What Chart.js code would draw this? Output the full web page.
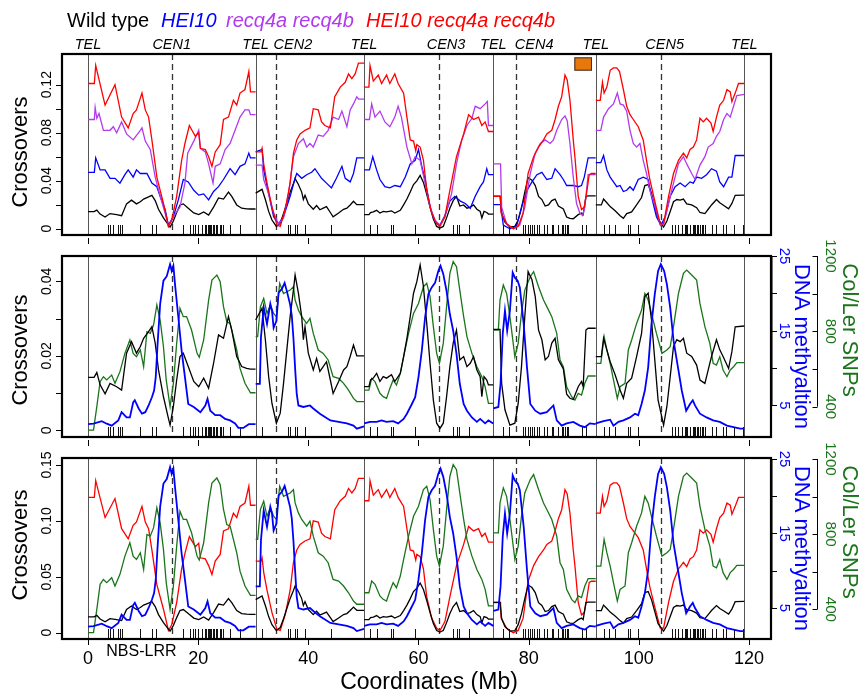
<!DOCTYPE html>
<html><head><meta charset="utf-8">
<script src="https://cdn.jsdelivr.net/npm/chart.js"></script>
<style>
html,body{margin:0;padding:0;background:#fff;}
#wrap{position:relative;width:860px;height:694px;overflow:hidden;}
canvas{position:absolute;left:0;top:0;}
</style></head><body>
<div id="wrap">
<canvas id="c1" width="860" height="694"></canvas>
<canvas id="c2" width="860" height="694"></canvas>
<canvas id="c3" width="860" height="694"></canvas>
</div>
<script>
// ---------- data (Mb, value) ----------
const chromBounds = [0, 30.43, 50.13, 73.59, 92.18, 119.16];
const cenPos = [15.2, 34.1, 63.8, 77.65, 104.0];
const cenNames = ['CEN1', 'CEN2', 'CEN3', 'CEN4', 'CEN5'];
const cenLabelPos = [15.2, 37.2, 65.0, 81.0, 104.7];
const xTicks = [0, 20, 40, 60, 80, 100, 120];
const legendNames = ['Wild type', 'HEI10', 'recq4a recq4b', 'HEI10 recq4a recq4b'];

const wildType = [[0.01,0.0142],[1.1,0.0142],[1.6,0.0155],[2.2,0.0122],[3.1,0.0098],[4.0,0.0126],[5.2,0.0117],[6.1,0.0108],[7.0,0.0207],[7.9,0.0238],[8.8,0.0207],[9.5,0.0225],[10.1,0.0247],[11.0,0.0265],[11.6,0.0278],[12.2,0.0234],[12.8,0.0162],[13.7,0.009],[14.6,0.0032],[14.9,0.0014],[15.5,0.0064],[16.1,0.0135],[16.7,0.0198],[17.3,0.0207],[18.2,0.0171],[19.2,0.0131],[20.1,0.0117],[21.0,0.014],[21.9,0.0113],[22.8,0.018],[23.7,0.0256],[24.6,0.0247],[25.5,0.0305],[26.1,0.0269],[27.0,0.0198],[27.9,0.0171],[28.8,0.0166],[29.5,0.0164],[30.42,0.0164],
[30.44,0.0296],[31.6,0.0328],[32.2,0.0243],[32.8,0.0144],[33.4,0.0072],[34.2,0.0019],[34.9,0.0046],[35.5,0.0126],[36.1,0.0216],[36.7,0.0305],[37.3,0.0377],[37.6,0.0417],[38.2,0.0368],[38.8,0.0305],[39.1,0.0243],[39.4,0.0278],[40.0,0.0207],[40.9,0.0162],[41.5,0.0193],[42.1,0.0158],[42.7,0.0171],[43.3,0.0184],[44.0,0.0135],[44.5,0.0099],[45.5,0.0131],[46.4,0.0162],[47.0,0.0171],[47.6,0.0198],[48.2,0.0229],[48.8,0.02],[50.12,0.02],
[50.14,0.0117],[51.0,0.0117],[51.3,0.0135],[51.8,0.014],[52.4,0.0153],[53.0,0.0131],[53.6,0.0144],[54.2,0.014],[55.1,0.0149],[55.7,0.0131],[56.7,0.0153],[57.3,0.0198],[57.9,0.0247],[58.5,0.0305],[59.1,0.0368],[59.7,0.0399],[60.3,0.0444],[60.9,0.0386],[61.5,0.0287],[62.1,0.018],[62.7,0.0081],[63.3,0.0019],[63.9,0.0005],[64.5,0.0019],[65.1,0.009],[65.7,0.0171],[66.3,0.0234],[66.9,0.0269],[67.5,0.0189],[68.2,0.0198],[68.8,0.0171],[69.4,0.018],[70.0,0.0198],[70.6,0.0162],[71.2,0.0144],[71.5,0.009],[71.9,0.0144],[72.4,0.0135],[72.7,0.0122],[73.58,0.0122],
[73.6,0.0271],[74.8,0.0271],[75.1,0.0126],[75.7,0.0055],[76.6,0.0014],[77.5,0.0019],[78.1,0.0072],[78.7,0.0171],[79.3,0.0305],[79.9,0.0426],[80.6,0.0404],[81.2,0.0359],[81.8,0.0269],[82.4,0.0243],[83.0,0.0189],[83.6,0.0198],[84.2,0.0234],[84.8,0.0247],[85.4,0.0189],[86.3,0.0165],[86.9,0.0097],[87.5,0.0086],[88.1,0.0083],[89.0,0.0117],[89.6,0.0131],[89.9,0.0117],[90.4,0.0269],[90.8,0.0274],[92.17,0.0274],
[92.19,0.0198],[93.2,0.0198],[93.6,0.0247],[94.2,0.0216],[94.8,0.0184],[95.7,0.0149],[96.6,0.0108],[97.2,0.0086],[97.8,0.0126],[98.7,0.014],[99.6,0.0198],[100.5,0.026],[101.1,0.0359],[101.7,0.0368],[102.3,0.0296],[102.9,0.0189],[103.5,0.0081],[104.5,0.0014],[105.1,0.0064],[105.7,0.0144],[106.3,0.0225],[106.9,0.0243],[107.5,0.0238],[108.1,0.0247],[108.7,0.0207],[109.6,0.0198],[110.5,0.0175],[111.1,0.0135],[112.0,0.0126],[112.6,0.0162],[113.2,0.0198],[114.1,0.0243],[114.7,0.0216],[115.3,0.0198],[116.3,0.0166],[116.9,0.0211],[117.5,0.0278],[119.15,0.028]];

const hei10 = [[0.01,0.047],[1.15,0.047],[1.4,0.059],[2.2,0.049],[3.1,0.049],[4.0,0.042],[4.9,0.042],[5.8,0.038],[6.7,0.045],[7.3,0.049],[8.2,0.043],[8.8,0.049],[9.5,0.046],[10.7,0.046],[11.6,0.038],[12.5,0.035],[13.1,0.027],[14.0,0.016],[14.6,0.003],[15.5,0.010],[16.4,0.024],[17.3,0.041],[18.2,0.039],[19.2,0.032],[20.1,0.028],[21.0,0.029],[21.9,0.024],[22.8,0.031],[23.7,0.035],[24.6,0.041],[25.8,0.050],[26.7,0.045],[27.6,0.052],[28.5,0.054],[29.2,0.063],[29.5,0.059],[30.42,0.059],
[30.44,0.064],[31.6,0.066],[31.9,0.049],[32.8,0.029],[33.7,0.010],[34.6,0.004],[35.5,0.010],[36.7,0.027],[37.6,0.042],[37.9,0.046],[38.8,0.042],[39.7,0.045],[40.6,0.047],[41.2,0.050],[42.4,0.042],[43.3,0.038],[44.2,0.034],[45.1,0.042],[46.1,0.052],[46.7,0.042],[47.6,0.039],[48.2,0.046],[48.8,0.059],[50.12,0.059],
[50.14,0.049],[51.1,0.049],[51.7,0.060],[52.4,0.049],[53.0,0.041],[53.9,0.035],[54.8,0.034],[55.7,0.036],[56.7,0.035],[57.6,0.043],[58.5,0.054],[59.4,0.057],[60.0,0.066],[60.6,0.052],[61.2,0.041],[62.1,0.018],[63.0,0.006],[63.9,0.003],[64.8,0.011],[65.7,0.023],[66.6,0.027],[67.6,0.023],[68.5,0.021],[69.4,0.017],[70.3,0.027],[71.2,0.035],[71.8,0.039],[72.4,0.050],[72.7,0.045],[73.58,0.045],
[73.6,0.020],[74.9,0.020],[75.4,0.003],[76.6,0.000],[77.8,0.002],[78.7,0.018],[79.7,0.032],[80.6,0.039],[81.5,0.045],[82.4,0.047],[83.3,0.041],[84.2,0.042],[84.8,0.050],[85.7,0.045],[86.3,0.041],[86.9,0.036],[88.1,0.036],[89.0,0.035],[89.6,0.036],[90.1,0.043],[90.8,0.059],[92.17,0.059],
[92.19,0.055],[93.1,0.055],[93.6,0.061],[94.2,0.049],[94.8,0.043],[95.4,0.039],[96.0,0.035],[96.6,0.036],[97.2,0.031],[97.8,0.032],[98.4,0.035],[99.0,0.032],[99.9,0.041],[100.8,0.043],[101.7,0.041],[102.3,0.027],[103.2,0.010],[104.0,0.003],[104.8,0.010],[105.7,0.027],[106.6,0.035],[107.5,0.038],[108.4,0.035],[109.3,0.039],[109.9,0.038],[110.5,0.043],[111.4,0.042],[112.3,0.045],[113.2,0.050],[114.1,0.048],[114.7,0.039],[115.4,0.035],[116.3,0.043],[116.9,0.043],[117.5,0.061],[119.15,0.061]];

const recq4 = [[0.01,0.091],[1.15,0.091],[1.3,0.101],[1.6,0.092],[2.0,0.096],[2.8,0.082],[4.0,0.082],[4.6,0.085],[5.2,0.080],[6.1,0.089],[7.0,0.079],[8.2,0.074],[9.5,0.082],[9.8,0.084],[10.4,0.073],[11.3,0.066],[12.2,0.043],[13.1,0.027],[14.0,0.013],[14.6,0.002],[15.5,0.010],[16.7,0.018],[17.6,0.038],[18.1,0.063],[19.2,0.073],[20.1,0.082],[20.4,0.067],[21.3,0.064],[21.9,0.054],[22.7,0.038],[23.1,0.052],[24.0,0.054],[24.9,0.066],[25.8,0.071],[26.7,0.082],[27.6,0.093],[28.5,0.099],[29.2,0.099],[29.5,0.095],[30.42,0.095],
[30.44,0.053],[31.6,0.053],[31.9,0.041],[32.8,0.029],[33.7,0.013],[34.6,0.004],[35.5,0.009],[36.4,0.029],[37.3,0.060],[38.2,0.071],[39.1,0.075],[39.7,0.068],[40.3,0.071],[40.9,0.068],[41.8,0.078],[42.7,0.077],[43.6,0.082],[44.5,0.093],[45.5,0.091],[46.1,0.098],[47.0,0.085],[47.6,0.099],[48.2,0.104],[48.8,0.110],[49.1,0.108],[50.12,0.108],
[50.14,0.091],[51.1,0.091],[51.5,0.104],[52.1,0.093],[53.0,0.098],[53.9,0.089],[54.8,0.085],[55.7,0.093],[56.3,0.102],[56.9,0.093],[57.9,0.068],[58.8,0.054],[59.4,0.060],[60.3,0.057],[61.2,0.038],[62.1,0.018],[63.0,0.007],[63.9,0.003],[64.8,0.010],[66.0,0.029],[66.9,0.054],[67.8,0.073],[68.8,0.086],[69.7,0.092],[70.3,0.102],[71.2,0.100],[72.1,0.104],[72.5,0.106],[72.7,0.086],[73.58,0.086],
[73.6,0.054],[74.9,0.054],[75.1,0.018],[76.0,0.004],[77.2,0.000],[78.4,0.003],[79.3,0.018],[80.3,0.046],[81.2,0.063],[82.1,0.071],[83.0,0.074],[83.9,0.071],[84.5,0.074],[85.1,0.082],[86.0,0.091],[86.6,0.094],[87.0,0.090],[87.5,0.071],[88.1,0.043],[88.7,0.021],[89.3,0.013],[89.8,0.011],[90.2,0.018],[90.8,0.045],[92.17,0.045],
[92.19,0.082],[93.1,0.082],[93.6,0.093],[94.5,0.100],[95.4,0.104],[96.1,0.113],[96.6,0.104],[97.2,0.103],[97.8,0.098],[98.4,0.082],[99.0,0.071],[99.6,0.068],[100.2,0.071],[100.8,0.057],[101.4,0.046],[102.0,0.032],[103.0,0.018],[103.9,0.003],[104.5,0.004],[105.4,0.021],[106.3,0.038],[107.2,0.054],[108.1,0.060],[108.7,0.054],[109.6,0.046],[110.2,0.041],[111.1,0.053],[112.0,0.060],[112.6,0.068],[113.5,0.071],[114.1,0.077],[114.7,0.081],[115.4,0.091],[116.0,0.096],[116.6,0.093],[117.2,0.102],[117.8,0.111],[119.15,0.112]];

const hei10Recq4 = [[0.01,0.121],[1.15,0.121],[1.4,0.136],[3.1,0.103],[4.9,0.120],[6.1,0.093],[7.3,0.084],[8.2,0.096],[8.8,0.099],[9.8,0.113],[10.4,0.099],[11.0,0.093],[11.6,0.074],[12.5,0.043],[13.7,0.021],[14.6,0.002],[15.2,0.007],[16.1,0.027],[17.0,0.057],[17.6,0.071],[18.4,0.086],[19.0,0.081],[19.5,0.077],[20.1,0.080],[20.4,0.067],[21.3,0.066],[21.9,0.060],[22.5,0.052],[23.1,0.064],[24.0,0.070],[24.6,0.091],[25.5,0.093],[26.4,0.107],[27.0,0.103],[27.6,0.113],[28.5,0.116],[29.2,0.131],[29.5,0.114],[30.42,0.114],
[30.44,0.064],[31.4,0.064],[31.6,0.067],[31.9,0.054],[32.5,0.038],[33.4,0.018],[34.3,0.003],[34.9,0.002],[35.8,0.016],[36.7,0.038],[37.3,0.063],[37.9,0.074],[38.5,0.079],[39.4,0.082],[40.3,0.084],[40.9,0.100],[41.8,0.099],[42.4,0.089],[43.0,0.086],[44.0,0.084],[44.8,0.110],[45.8,0.118],[46.7,0.122],[47.3,0.129],[47.9,0.125],[48.5,0.129],[49.1,0.138],[50.12,0.138],
[50.14,0.118],[51.0,0.118],[51.2,0.136],[51.8,0.123],[52.7,0.128],[53.3,0.121],[54.2,0.128],[54.8,0.121],[55.7,0.129],[56.3,0.121],[57.3,0.113],[57.9,0.093],[58.5,0.074],[59.1,0.073],[59.5,0.065],[59.7,0.070],[60.3,0.068],[60.9,0.057],[61.5,0.032],[62.4,0.013],[63.3,0.004],[63.9,0.002],[64.8,0.010],[65.7,0.032],[66.9,0.060],[68.2,0.079],[69.1,0.095],[70.0,0.091],[70.9,0.093],[71.5,0.086],[72.1,0.089],[72.7,0.081],[73.58,0.081],
[73.6,0.027],[74.9,0.027],[75.0,0.013],[76.0,0.004],[77.2,0.000],[78.1,0.002],[79.0,0.013],[79.9,0.046],[80.9,0.060],[81.8,0.068],[82.7,0.074],[83.3,0.079],[84.2,0.082],[84.8,0.091],[85.4,0.102],[86.0,0.110],[86.6,0.128],[87.0,0.124],[87.5,0.107],[88.1,0.074],[88.4,0.060],[89.0,0.027],[89.6,0.016],[90.1,0.018],[90.5,0.029],[91.0,0.045],[91.4,0.046],[92.17,0.046],
[92.19,0.107],[93.0,0.107],[93.4,0.122],[93.7,0.113],[94.2,0.118],[94.8,0.132],[95.4,0.134],[96.0,0.134],[96.5,0.131],[97.2,0.116],[97.8,0.102],[98.4,0.095],[99.0,0.091],[99.9,0.085],[100.8,0.074],[101.4,0.057],[102.0,0.041],[103.0,0.021],[103.9,0.004],[104.5,0.004],[105.4,0.027],[106.3,0.046],[107.2,0.057],[108.1,0.063],[108.7,0.059],[109.3,0.066],[109.9,0.068],[110.5,0.074],[111.1,0.092],[111.7,0.089],[112.3,0.092],[113.1,0.088],[113.5,0.081],[114.1,0.093],[114.7,0.103],[115.4,0.107],[116.0,0.116],[116.6,0.114],[116.9,0.106],[117.5,0.113],[118.1,0.121],[119.15,0.121]];

const methylation = [[0.01,2.5],[1.0,2.56],[2.5,2.9],[3.4,2.56],[4.3,2.3],[5.5,3.0],[6.1,4.1],[7.0,3.4],[7.6,3.4],[8.2,5.4],[8.5,5.7],[9.2,4.6],[9.8,3.9],[10.4,4.1],[11.0,5.0],[11.6,6.1],[12.0,7.0],[12.3,8.8],[12.6,12.8],[13.1,18.6],[13.7,21.7],[14.3,22.3],[14.9,23.9],[15.2,23.0],[15.5,23.7],[15.8,21.2],[16.4,16.8],[17.0,12.3],[17.6,8.8],[18.2,5.2],[19.2,4.8],[20.4,4.1],[21.3,5.0],[21.7,5.9],[22.2,4.3],[23.1,3.7],[24.0,3.7],[24.9,3.2],[25.8,3.0],[26.7,2.6],[27.3,2.0],[28.2,2.0],[29.2,2.5],[30.42,2.5],
[30.44,7.9],[31.2,7.9],[31.4,14.1],[31.9,18.1],[32.5,15.9],[33.1,18.6],[33.4,17.7],[33.7,15.4],[34.2,16.3],[34.6,20.1],[35.2,20.6],[35.7,21.4],[36.1,20.3],[36.7,18.5],[37.0,17],[37.3,14],[37.6,10],[37.9,6.5],[38.2,5.0],[39.1,4.8],[40.3,5.0],[40.9,4.6],[42.1,3.9],[44.0,3.0],[45.5,2.8],[47.0,2.6],[48.2,2.3],[48.8,1.9],[50.12,2.2],
[50.14,2.6],[51.2,2.8],[52.4,2.8],[53.3,3.0],[54.2,2.8],[55.4,2.9],[56.3,2.6],[57.3,3.2],[57.9,3.9],[58.8,5.2],[59.4,6.1],[60.0,8.8],[60.6,12.3],[61.2,16.8],[61.8,19.9],[62.4,20.8],[63.0,21.4],[63.6,23.0],[64.0,23.7],[64.5,22.6],[65.1,20.3],[65.7,17.2],[66.3,15.0],[66.9,11.9],[67.5,7.9],[68.2,5.2],[68.8,4.3],[69.7,3.4],[70.6,2.8],[71.2,3.2],[72.1,2.6],[72.7,3.0],[73.58,2.6],
[73.6,4.6],[74.5,4.8],[74.9,7.9],[75.3,14.6],[75.7,17.7],[76.1,15.0],[76.6,17.7],[77.1,22.8],[77.5,22.1],[78.0,21.7],[78.4,20.8],[79.1,15.9],[79.7,10.1],[80.3,5.2],[81.2,4.3],[82.1,3.9],[83.3,4.1],[84.5,5.0],[85.1,3.0],[86.0,2.3],[86.9,2.6],[88.1,2.8],[89.3,2.3],[90.2,2.1],[91.1,2.6],[92.17,2.5],
[92.19,2.6],[93.6,2.9],[94.8,3.1],[95.4,2.3],[96.3,2.8],[97.2,3.0],[98.4,3.4],[99.3,3.9],[99.9,3.7],[100.5,5.2],[101.1,7.0],[101.7,10.1],[102.3,15.9],[102.9,19.9],[103.5,23.0],[104.0,23.9],[104.6,23.0],[105.1,21.2],[105.7,18.1],[106.3,13.7],[107.2,9.7],[107.8,7.0],[108.6,4.3],[109.3,5.2],[109.8,5.7],[110.2,5.0],[111.1,3.9],[112.3,3.4],[113.5,3.0],[114.7,2.8],[116.0,2.3],[117.2,2.1],[118.4,1.9],[119.15,1.9]];

const snps = [[0.01,276],[1.0,276],[1.6,400],[2.2,533],[2.8,559],[3.4,542],[4.3,568],[4.9,524],[5.8,586],[6.7,683],[7.6,754],[8.2,683],[8.8,665],[9.5,701],[10.1,612],[10.7,798],[11.3,789],[11.9,833],[12.5,940],[13.1,860],[13.7,718],[14.2,542],[14.9,400],[15.5,524],[16.1,736],[16.7,922],[17.3,878],[17.9,878],[18.8,807],[19.8,683],[20.2,662],[21.0,754],[21.9,966],[22.5,1072],[23.4,1099],[24.0,1063],[24.6,931],[25.2,851],[25.8,842],[26.4,772],[27.0,701],[27.6,603],[28.5,524],[29.5,474],[30.42,474],
[30.44,772],[30.8,772],[31.3,931],[31.9,975],[32.5,895],[33.1,940],[33.7,895],[34.2,878],[34.8,1055],[35.5,1001],[36.1,1010],[36.7,1019],[37.3,1037],[37.6,966],[38.2,913],[38.8,878],[39.7,842],[40.3,869],[40.9,789],[41.8,701],[42.7,683],[43.6,648],[44.5,559],[45.5,550],[46.4,524],[47.3,488],[48.2,444],[48.8,427],[50.12,427],
[50.14,488],[51.0,488],[51.5,550],[52.1,533],[53.0,471],[53.6,453],[54.2,444],[54.8,497],[55.4,542],[56.0,515],[56.7,577],[57.3,665],[58.2,789],[59.1,895],[60.0,948],[60.9,1037],[61.5,1055],[62.1,984],[62.7,825],[63.3,683],[63.8,630],[64.5,736],[65.1,931],[65.7,1108],[66.3,1170],[66.9,1143],[67.5,1019],[68.2,878],[68.8,772],[69.7,683],[70.6,612],[71.5,559],[72.1,506],[72.7,418],[73.58,418],
[73.6,807],[74.5,807],[74.8,966],[75.4,1046],[76.0,1001],[76.6,878],[77.5,665],[78.1,736],[78.7,895],[79.3,1019],[80.3,1090],[80.9,1117],[81.8,1037],[82.7,966],[83.3,931],[84.2,878],[85.1,789],[85.7,648],[86.3,612],[86.9,506],[87.8,453],[88.4,435],[89.0,471],[89.6,462],[90.2,524],[90.8,563],[92.17,563],
[92.19,630],[93.1,630],[93.7,772],[94.2,701],[94.8,630],[95.4,542],[96.1,444],[96.6,506],[97.5,524],[98.1,701],[98.7,754],[99.6,842],[100.5,913],[101.1,1001],[101.7,966],[102.3,895],[103.2,789],[104.2,683],[105.1,701],[105.7,718],[106.3,825],[107.2,1001],[108.1,1108],[108.7,1125],[109.6,1099],[110.5,1072],[111.1,948],[112.0,825],[112.9,736],[113.5,630],[114.1,621],[114.7,665],[115.3,595],[116.0,559],[116.6,595],[117.2,612],[117.8,634],[119.15,634]];

const nbsLrr = [3.7,4.0,4.6,5.5,5.8,6.2,9.5,11.6,12.3,17.3,18.5,19.0,19.4,19.9,20.7,21.3,21.5,21.7,22.0,22.2,22.4,22.7,22.9,23.3,23.5,23.9,24.1,24.5,25.8,27.6,31.6,36.4,36.7,37.6,38.0,39.4,44.2,51.2,52.4,55.1,55.4,59.4,66.3,67.0,67.4,69.1,75.3,76.5,79.0,79.3,79.8,80.3,80.6,80.9,81.5,81.8,82.7,83.3,84.2,84.5,85.4,86.0,86.3,86.6,86.9,87.2,89.6,90.5,93.6,94.5,95.7,98.1,98.4,99.9,106.0,106.6,107.2,107.8,108.4,108.6,108.8,109.3,109.8,110.0,110.2,110.5,110.8,111.1,111.4,111.7,112.0,113.2,114.1,115.3,115.9,117.2,118.9];

// ---------- helpers ----------
const FONT = '"Liberation Sans", Arial, Helvetica, sans-serif';
const COL = {wt:'#000000', hei:'#0000ff', recq:'#b23aee', both:'#ff0000', meth:'#0000ff', snp:'#1a751a'};
const X_MIN = -4.72, X_MAX = 124.0;

function toPoints(pairs){
  const out = [];
  for (let i = 0; i < pairs.length; i++){
    const [x, y] = pairs[i];
    if (i > 0){
      const px = pairs[i-1][0];
      for (const b of chromBounds){ if (px < b && x > b) out.push({x:b, y:null}); }
    }
    out.push({x, y});
  }
  return out;
}
function ds(pairs, color, axis, width){
  return {data: toPoints(pairs), borderColor: color, borderWidth: width || 1.3, pointRadius: 0,
          fill: false, tension: 0, yAxisID: axis, spanGaps: false};
}
function rotText(ctx, txt, x, y, ang){
  ctx.save(); ctx.translate(x, y); ctx.rotate(ang);
  ctx.textAlign = 'center'; ctx.textBaseline = 'middle';
  ctx.fillText(txt, 0, 0); ctx.restore();
}
function seg(ctx, x1, y1, x2, y2){ ctx.beginPath(); ctx.moveTo(x1, y1); ctx.lineTo(x2, y2); ctx.stroke(); }

const panels = [
  {id:'c1', top:54, bottom:235, yMin:-0.00525, yMax:0.14558,
   yTicks:[0,0.02,0.04,0.06,0.08,0.10,0.12], yLabels:[[0,'0'],[0.04,'0.04'],[0.08,'0.08'],[0.12,'0.12']],
   titleY:152, right:false, first:true, last:false,
   datasets:()=>[ds(hei10Recq4,COL.both,'y'), ds(recq4,COL.recq,'y'), ds(hei10,COL.hei,'y'), ds(wildType,COL.wt,'y')]},
  {id:'c2', top:256, bottom:437, yMin:-0.0018, yMax:0.04679,
   yTicks:[0,0.01,0.02,0.03,0.04], yLabels:[[0,'0'],[0.02,'0.02'],[0.04,'0.04']],
   titleY:350, right:true, mMin:0.78, mMax:25.0, sMin:239, sMax:1200, first:false, last:false,
   datasets:()=>[ds(methylation,COL.meth,'yM',1.8), ds(wildType,COL.wt,'y'), ds(snps,COL.snp,'yS')]},
  {id:'c3', top:458, bottom:639, yMin:-0.00564, yMax:0.15626,
   yTicks:[0,0.05,0.10,0.15], yLabels:[[0,'0'],[0.05,'0.05'],[0.10,'0.10'],[0.15,'0.15']],
   titleY:545, right:true, mMin:0.84, mMax:25.13, sMin:242, sMax:1205, first:false, last:true,
   datasets:()=>[ds(methylation,COL.meth,'yM',1.8), ds(wildType,COL.wt,'y'), ds(snps,COL.snp,'yS'), ds(hei10Recq4,COL.both,'y')]}
];

function decor(p){
  return {
    id: 'decor_' + p.id,
    beforeDatasetsDraw(chart){
      const ctx = chart.ctx, a = chart.chartArea, x = chart.scales.x;
      ctx.save();
      ctx.strokeStyle = '#555'; ctx.lineWidth = 1;
      chromBounds.forEach(b => { const px = Math.round(x.getPixelForValue(b)) + 0.5; seg(ctx, px, a.top, px, a.bottom); });
      ctx.strokeStyle = '#333'; ctx.lineWidth = 1.3; ctx.setLineDash([6, 4]);
      cenPos.forEach(c => { const px = Math.round(x.getPixelForValue(c)) + 0.5; seg(ctx, px, a.top, px, a.bottom); });
      ctx.setLineDash([]);
      ctx.strokeStyle = '#111'; ctx.lineWidth = 1;
      nbsLrr.forEach(v => { const px = Math.round(x.getPixelForValue(v)) + 0.5; seg(ctx, px, a.bottom - 1, px, a.bottom - 10); });
      ctx.restore();
    },
    afterDatasetsDraw(chart){
      const ctx = chart.ctx, a = chart.chartArea, x = chart.scales.x, y = chart.scales.y;
      ctx.save();
      // frame
      ctx.strokeStyle = '#000'; ctx.lineWidth = 2.2;
      ctx.strokeRect(a.left, a.top, a.right - a.left, a.bottom - a.top);
      // left y ticks
      ctx.lineWidth = 1;
      p.yTicks.forEach(t => { const py = Math.round(y.getPixelForValue(t)) + 0.5; seg(ctx, a.left - 6, py, a.left, py); });
      ctx.fillStyle = '#000'; ctx.font = '14px ' + FONT;
      p.yLabels.forEach(([t, s]) => rotText(ctx, s, 47, y.getPixelForValue(t), -Math.PI/2));
      ctx.font = '22px ' + FONT;
      rotText(ctx, 'Crossovers', 21, p.titleY, -Math.PI/2);
      // x ticks below panel
      if (!p.last){
        xTicks.forEach(t => { const px = Math.round(x.getPixelForValue(t)) + 0.5; seg(ctx, px, a.bottom + 3, px, a.bottom + 9); });
      } else {
        xTicks.forEach(t => { const px = Math.round(x.getPixelForValue(t)) + 0.5; seg(ctx, px, a.bottom + 1, px, a.bottom + 6); });
        ctx.font = '18px ' + FONT; ctx.textAlign = 'center'; ctx.textBaseline = 'middle';
        xTicks.forEach(t => ctx.fillText(String(t), x.getPixelForValue(t), 659));
        ctx.font = '16px ' + FONT;
        ctx.fillText('NBS-LRR', x.getPixelForValue(9.7), 652);
        ctx.font = '23px ' + FONT;
        ctx.fillText('Coordinates (Mb)', 429, 683);
      }
      if (p.first){
        // legend
        ctx.textAlign = 'left'; ctx.textBaseline = 'alphabetic';
        ctx.font = '20px ' + FONT; ctx.fillStyle = COL.wt; ctx.fillText(legendNames[0], 67, 27);
        ctx.font = 'italic 20px ' + FONT;
        ctx.fillStyle = COL.hei; ctx.fillText(legendNames[1], 161, 27);
        ctx.fillStyle = COL.recq; ctx.fillText(legendNames[2], 226, 27);
        ctx.fillStyle = COL.both; ctx.fillText(legendNames[3], 366, 27);
        // TEL / CEN labels
        ctx.fillStyle = '#000'; ctx.font = 'italic 14.5px ' + FONT; ctx.textAlign = 'center';
        chromBounds.forEach(b => ctx.fillText('TEL', x.getPixelForValue(b), 49));
        cenNames.forEach((n, i) => ctx.fillText(n, x.getPixelForValue(cenLabelPos[i]), 49));
        // orange marker box
        const bx1 = x.getPixelForValue(88.3), bx2 = x.getPixelForValue(91.5);
        const by1 = y.getPixelForValue(0.1428), by2 = y.getPixelForValue(0.1317);
        ctx.fillStyle = '#e8780c'; ctx.fillRect(bx1, by1, bx2 - bx1, by2 - by1);
        ctx.strokeStyle = '#333'; ctx.lineWidth = 1; ctx.strokeRect(bx1 + 0.5, by1 + 0.5, bx2 - bx1 - 1, by2 - by1 - 1);
      }
      if (p.right){
        const m = chart.scales.yM, s = chart.scales.yS;
        // methylation axis
        ctx.strokeStyle = '#000'; ctx.lineWidth = 1;
        const ax = a.right + 1;
        seg(ctx, ax, m.getPixelForValue(5), ax, m.getPixelForValue(25));
        [5,10,15,20,25].forEach(t => { const py = Math.round(m.getPixelForValue(t)) + 0.5; seg(ctx, ax, py, ax + 5, py); });
        ctx.fillStyle = COL.meth; ctx.font = '15px ' + FONT;
        [5,15,25].forEach(t => rotText(ctx, String(t), 784, m.getPixelForValue(t), Math.PI/2));
        ctx.font = '22px ' + FONT;
        rotText(ctx, 'DNA methyaltion', 801, (a.top + a.bottom) / 2, Math.PI/2);
        // SNP axis
        const sx = 817.5;
        ctx.strokeStyle = '#000';
        seg(ctx, sx, s.getPixelForValue(400), sx, s.getPixelForValue(1200));
        [400,600,800,1000,1200].forEach(t => { const py = Math.round(s.getPixelForValue(t)) + 0.5; seg(ctx, sx, py, sx - 5, py); });
        ctx.fillStyle = COL.snp; ctx.font = '15px ' + FONT;
        [400,800,1200].forEach(t => rotText(ctx, String(t), 830, s.getPixelForValue(t), Math.PI/2));
        ctx.font = '22px ' + FONT;
        rotText(ctx, 'Col/Ler SNPs', 849, a.top + 74, Math.PI/2);
      }
      ctx.restore();
    }
  };
}

panels.forEach(p => {
  const scales = {
    x: {type:'linear', min:X_MIN, max:X_MAX, display:false},
    y: {type:'linear', min:p.yMin, max:p.yMax, display:false}
  };
  if (p.right){
    scales.yM = {type:'linear', min:p.mMin, max:p.mMax, display:false};
    scales.yS = {type:'linear', min:p.sMin, max:p.sMax, display:false};
  }
  new Chart(document.getElementById(p.id), {
    type: 'line',
    data: {datasets: p.datasets()},
    options: {
      responsive: false, animation: false, devicePixelRatio: 1, events: [],
      layout: {padding: {left: 62, right: 860 - 771, top: p.top, bottom: 694 - p.bottom}},
      plugins: {legend: {display: false}, tooltip: {enabled: false}, title: {display: false}},
      scales: scales
    },
    plugins: [decor(p)]
  });
});
</script>
</body></html>
